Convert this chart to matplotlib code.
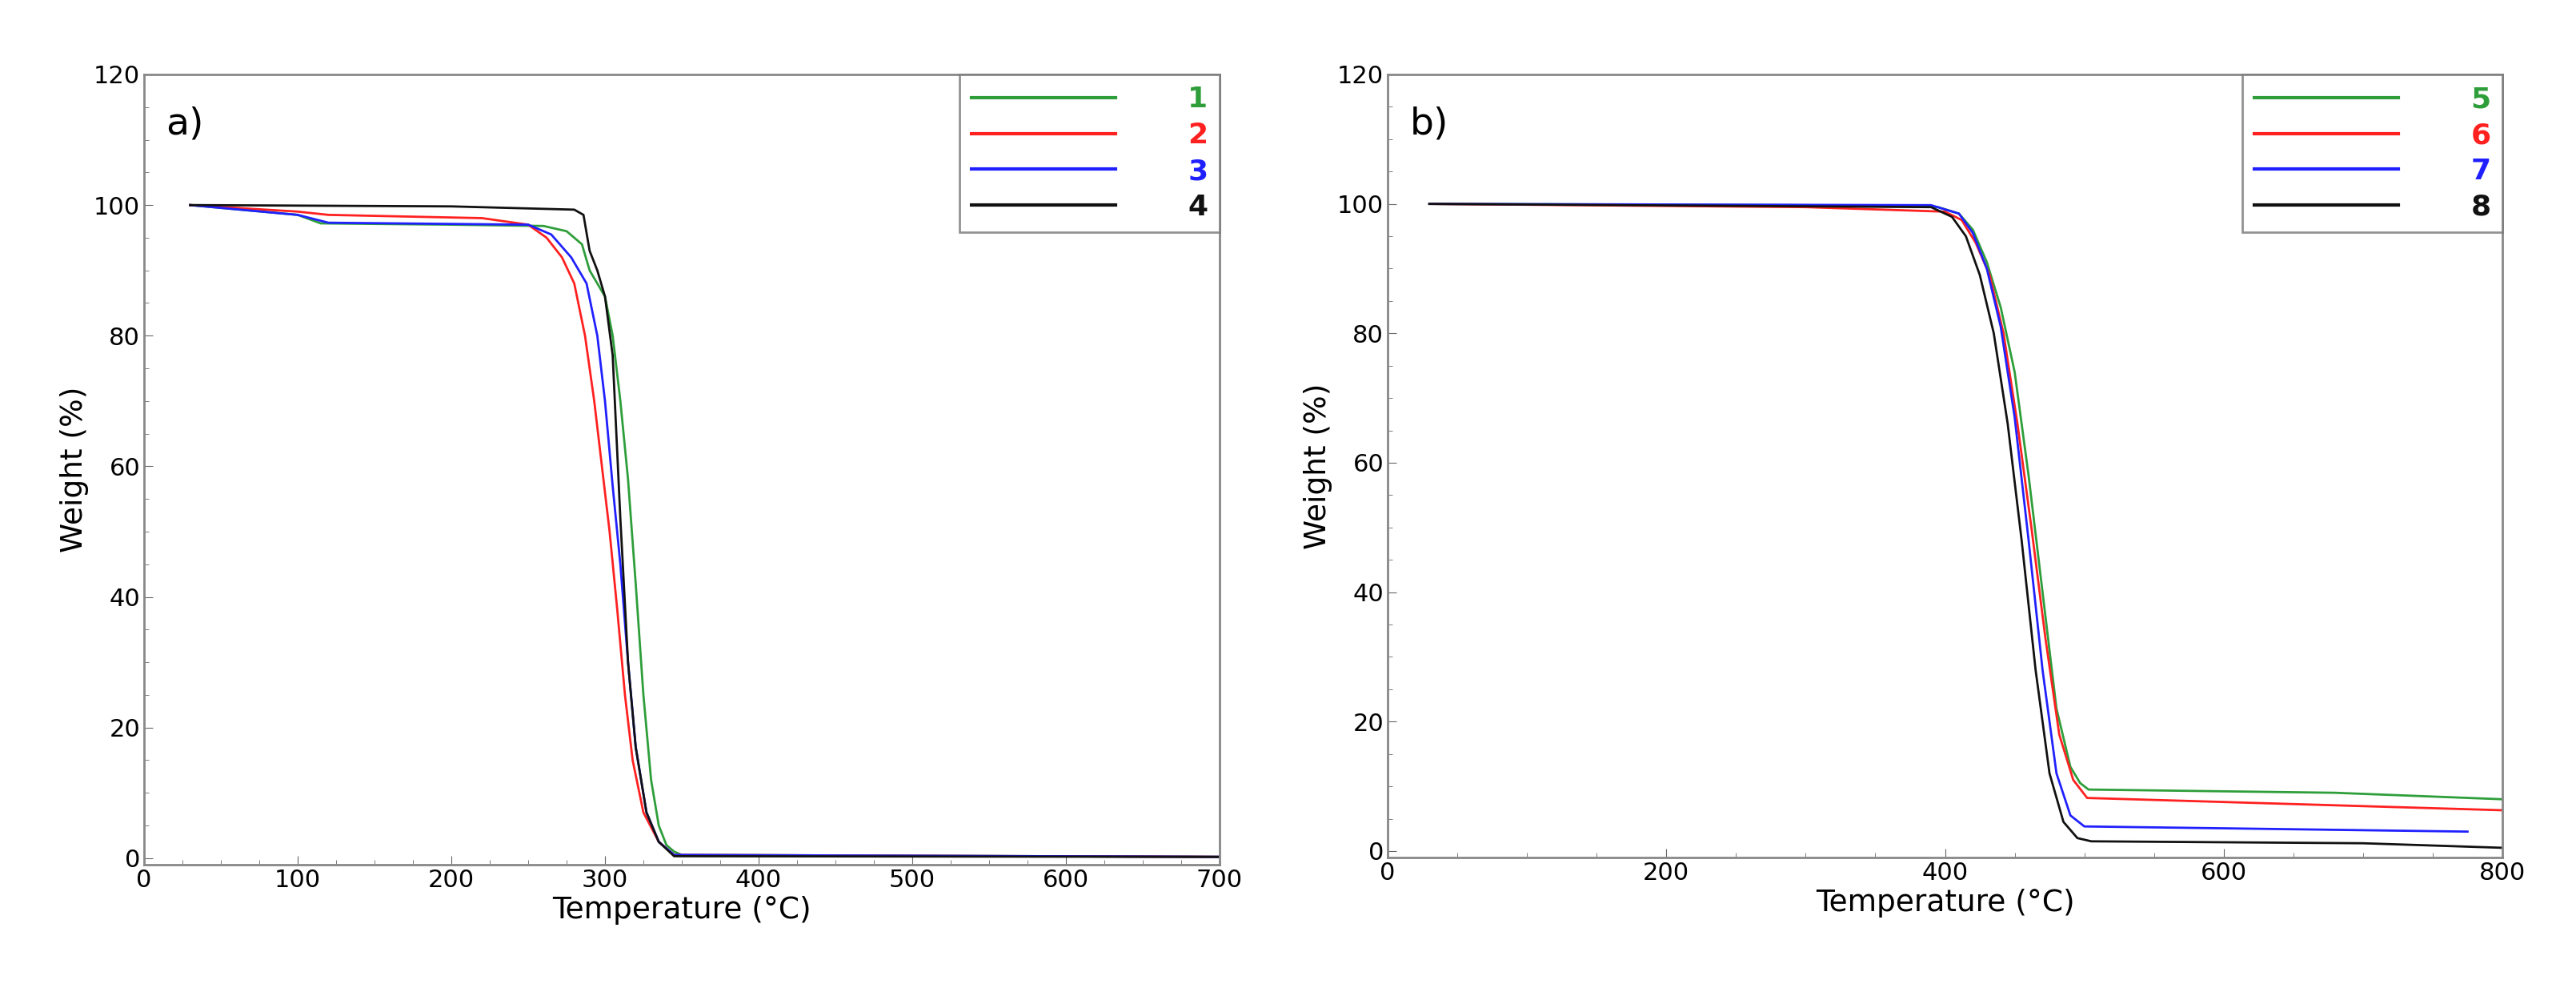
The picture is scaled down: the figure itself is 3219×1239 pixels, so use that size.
import matplotlib.pyplot as plt
from matplotlib.ticker import MultipleLocator

# panel a) curves
a1_T = [30, 100, 115, 200, 260, 275, 285, 290, 295, 300, 305, 310, 315, 320, 325, 330, 335, 340, 345, 350, 700]
a1_W = [100, 98.5, 97.2, 97, 96.8, 96, 94, 90, 88, 86, 80, 70, 58, 42, 25, 12, 5, 2, 1, 0.5, 0.2]
a2_T = [30, 100, 120, 220, 250, 262, 272, 280, 287, 293, 298, 303, 308, 313, 318, 325, 335, 345, 700]
a2_W = [100, 99, 98.5, 98, 97, 95, 92, 88, 80, 70, 60, 50, 38, 25, 15, 7, 2.5, 0.5, 0.2]
a3_T = [30, 100, 120, 250, 265, 278, 288, 295, 300, 305, 310, 315, 320, 327, 335, 345, 700]
a3_W = [100, 98.5, 97.3, 97, 95.5, 92, 88, 80, 70, 57, 45, 30, 17, 7, 2.5, 0.5, 0.2]
a4_T = [30, 200, 280, 286, 290, 295, 300, 305, 310, 315, 320, 327, 335, 345, 700]
a4_W = [100, 99.8, 99.3, 98.5, 93, 90, 86, 77, 52, 30, 17, 7, 2.5, 0.3, 0.2]

# panel b) curves
b5_T = [30, 300, 395, 410, 420, 430, 440, 450, 460, 470, 480, 490, 497, 503, 680, 800]
b5_W = [100, 99.8, 99.5, 98.5, 96, 91, 84, 74, 58, 40, 22, 13, 10.5, 9.5, 9, 8]
b6_T = [30, 300, 400, 412, 422, 432, 442, 452, 462, 472, 482, 492, 502, 800]
b6_W = [100, 99.5, 98.8, 97.5, 94, 89, 80, 66, 50, 33, 18, 11, 8.2, 6.3]
b7_T = [30, 390, 410, 420, 430, 440, 450, 460, 470, 480, 490, 500, 775]
b7_W = [100, 99.8, 98.5, 95.5, 90, 81, 67, 48, 28, 12, 5.5, 3.8, 3]
b8_T = [30, 390, 405, 415, 425, 435, 445, 455, 465, 475, 485, 495, 505, 700, 800]
b8_W = [100, 99.5, 98, 95, 89, 80, 66, 48, 28, 12, 4.5, 2, 1.5, 1.2, 0.5]

colors = ['#2e9e3a', '#ff2020', '#2020ff', '#111111']

fig = plt.figure(figsize=(32.19, 12.39), dpi=100)
axa = fig.add_axes([180/3219, 1-1080/1239, 1344/3219, 987/1239])
axb = fig.add_axes([1734/3219, 1-1071/1239, 1393/3219, 978/1239])

panels = [
    (axa, [(a1_T, a1_W, '1'), (a2_T, a2_W, '2'), (a3_T, a3_W, '3'), (a4_T, a4_W, '4')], 700, 100, 25, 'a)'),
    (axb, [(b5_T, b5_W, '5'), (b6_T, b6_W, '6'), (b7_T, b7_W, '7'), (b8_T, b8_W, '8')], 800, 200, 50, 'b)'),
]

for ax, curves, xmax, xmaj, xmin, tag in panels:
    for (T, W, lab), c in zip(curves, colors):
        ax.plot(T, W, color=c, lw=2, label=lab)
    ax.set_xlim(0, xmax)
    ax.set_ylim(-1, 120)
    ax.xaxis.set_major_locator(MultipleLocator(xmaj))
    ax.xaxis.set_minor_locator(MultipleLocator(xmin))
    ax.yaxis.set_major_locator(MultipleLocator(20))
    ax.yaxis.set_minor_locator(MultipleLocator(5))
    ax.tick_params(which='both', direction='in', labelsize=22, color='#666666')
    ax.tick_params(which='major', length=8)
    ax.tick_params(which='minor', length=4)
    for s in ax.spines.values():
        s.set_color('#888888')
        s.set_linewidth(2)
    ax.set_xlabel('Temperature (°C)', fontsize=27, labelpad=4)
    ax.set_ylabel('Weight (%)', fontsize=27)
    ax.text(0.02, 0.96, tag, transform=ax.transAxes, fontsize=34, va='top')
    leg = ax.legend(loc='upper right', borderaxespad=0, fancybox=False, edgecolor='#777777',
                    handlelength=5, handletextpad=2.5, labelspacing=0.3,
                    labelcolor='linecolor', prop={'weight': 'bold', 'size': 26})
    leg.get_frame().set_linewidth(2)
    for line in leg.get_lines():
        line.set_linewidth(3)

fig.savefig('out.png', dpi=100)
